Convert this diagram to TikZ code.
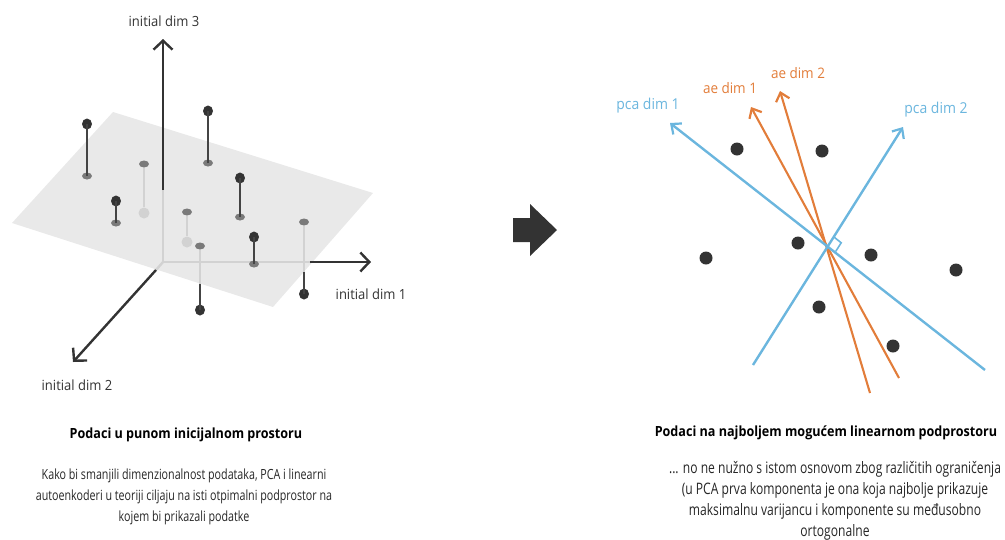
\documentclass[tikz,border=0pt]{standalone}
\usepackage{fontspec}
\setmainfont{Open Sans}
\newfontfamily\condfont[FakeStretch=0.765]{Open Sans}
\newfontfamily\titlefont[FakeStretch=0.9]{Open Sans}
\newfontfamily\labfont[FakeStretch=0.93]{Open Sans}
\usetikzlibrary{arrows.meta,calc,shapes.geometric}
\definecolor{dark}{HTML}{333333}
\definecolor{stemdark}{HTML}{444444}
\definecolor{lite}{HTML}{D2D2D2}
\definecolor{plane}{HTML}{E9E9E9}
\definecolor{proj}{HTML}{7A7A7A}
\definecolor{pcab}{HTML}{6BB6DE}
\definecolor{aeo}{HTML}{E27D3A}
\tikzset{
  axisdark/.style={draw=dark,line width=2.4pt},
  axislite/.style={draw=lite,line width=2.4pt},
  axtip/.style={-{Straight Barb[length=9pt,width=19pt,line width=2.4pt]}},
  stemd/.style={draw=stemdark,line width=1.4pt},
  steml/.style={draw=lite,line width=1.4pt},
  dotd/.style={fill=dark,ellipse,inner sep=0pt,minimum width=10pt,minimum height=11pt},
  dotp/.style={fill=proj,ellipse,inner sep=0pt,minimum width=10pt,minimum height=7pt},
  dotl/.style={fill=lite,ellipse,inner sep=0pt,minimum width=11pt,minimum height=11pt},
  dotr/.style={fill=dark,circle,inner sep=0pt,minimum size=13pt},
  axlabel/.style={font=\labfont\fontsize{14}{16}\selectfont,text=dark},
  pcaline/.style={draw=pcab,line width=2.4pt},
  aeline/.style={draw=aeo,line width=2.1pt},
  ltip/.style={-{Straight Barb[length=8pt,width=14pt,line width=2.2pt]}},
  pcalab/.style={font=\labfont\fontsize{15}{17}\selectfont,text=pcab},
  aelab/.style={font=\labfont\fontsize{14.5}{17}\selectfont,text=aeo},
  title/.style={font=\titlefont\bfseries\fontsize{14}{16}\selectfont,text=black},
  body/.style={font=\condfont\fontsize{14}{21.3}\selectfont,text=black!85,align=center},
  bodyr/.style={font=\condfont\fontsize{15.8}{21}\selectfont,text=black!85,align=center},
}
\begin{document}
\begin{tikzpicture}[x=1pt,y=-1pt]
\useasboundingbox (0,0) rectangle (1005,539);
% ---------- left: 3D view ----------
\fill[plane] (113,112) -- (373,193) -- (273,307) -- (12,223) -- cycle;
\coordinate (O) at (163,262);
\coordinate (A3) at (163,39);
\coordinate (A3m) at (163,190);
\coordinate (A1) at (371,262);
\coordinate (A1m) at (310,262);
\coordinate (A2) at (73,362);
\coordinate (A2m) at (156,270);
% light (under plane) parts of axes
\draw[axislite] (O) -- (A3m);
\draw[axislite] (O) -- (A1m);
\draw[axislite] (O) -- (A2m);
% dark parts
\draw[axisdark,axtip] (A3m) -- (A3);
\draw[axisdark,axtip] (A1m) -- (A1);
\draw[axisdark,axtip] (A2m) -- (A2);
\node[axlabel] (L3) at (164,21) {initial dim 3};
\node[axlabel] (L1) at (371,294) {initial dim 1};
\node[axlabel] (L2) at (77,385) {initial dim 2};
% points above the plane
\foreach \n/\x/\yd/\yp in {1/87/124/176, 2/208/111/163, 3/116/201/223, 4/240/178/217, 5/254/237/264}{
  \node[dotp] (p\n) at (\x,\yp) {};
  \node[dotd] (d\n) at (\x,\yd) {};
  \draw[stemd] (p\n.center) -- (d\n.center);
}
% points under the plane, hidden
\foreach \n/\x/\yl/\yp in {8/144/213/164, 9/187/242/212}{
  \node[dotl] (d\n) at (\x,\yl) {};
  \node[dotp] (p\n) at (\x,\yp) {};
  \draw[steml] (p\n.south) -- (d\n.north);
}
% points under the plane, below the edge
\foreach \n/\x/\yd/\yp/\ye in {6/304/294/222/272, 7/200/310/246/284}{
  \node[dotp] (p\n) at (\x,\yp) {};
  \node[dotd] (d\n) at (\x,\yd) {};
  \coordinate (e\n) at (\x,\ye);
  \draw[steml] (p\n.south) -- (e\n);
  \draw[stemd] (e\n) -- (d\n.center);
}
% ---------- middle block arrow ----------
\fill[dark] (513,218) -- (530,218) -- (530,204) -- (557,230) -- (530,256) -- (530,242) -- (513,242) -- cycle;
% ---------- right: projected view ----------
\coordinate (C) at (828,245);
\coordinate (P1s) at (985,370);
\coordinate (P1e) at (670,123);
\coordinate (P2s) at (753,365);
\coordinate (P2e) at (903,127);
\coordinate (E1s) at (899,378);
\coordinate (E1e) at (751,107);
\coordinate (E2s) at (870,393);
\coordinate (E2e) at (780,91);
\draw[aeline,ltip] (E1s) -- (E1e);
\draw[aeline,ltip] (E2s) -- (E2e);
\draw[pcaline,ltip] (P1s) -- (P1e);
\draw[pcaline,ltip] (P2s) -- (P2e);
\draw[draw=pcab,line width=1.6pt] ($(C)!10pt!(P1s)$) -- ($(C)!10pt!(P1s)+(C)!10pt!(P2e)-(C)$) -- ($(C)!10pt!(P2e)$);
\node[pcalab] (LP1) at (648,106) {pca dim 1};
\node[pcalab] (LP2) at (936,110) {pca dim 2};
\node[aelab] (LE1) at (730,88) {ae dim 1};
\node[aelab] (LE2) at (798,73) {ae dim 2};
\foreach \n/\x/\y in {1/737/149, 2/822/151, 3/798/243, 4/706/258, 5/871/255, 6/956/270, 7/819/307, 8/893/346}{
  \node[dotr] (r\n) at (\x,\y) {};
}
% ---------- texts ----------
\node[title] (T1) at (186,435) {Podaci u punom inicijalnom prostoru};
\node[body] (B1) at (184,497) {Kako bi smanjili dimenzionalnost podataka, PCA i linearni\\autoenkoderi u teoriji ciljaju na isti otpimalni podprostor na\\kojem bi prikazali podatke};
\node[title] (T2) at (826,433) {Podaci na najboljem mogućem linearnom podprostoru};
\node[bodyr] (B2) at (835,501) {... no ne nužno s istom osnovom zbog različitih ograničenja\\(u PCA prva komponenta je ona koja najbolje prikazuje\\maksimalnu varijancu i komponente su međusobno\\ortogonalne};
\end{tikzpicture}
\end{document}
